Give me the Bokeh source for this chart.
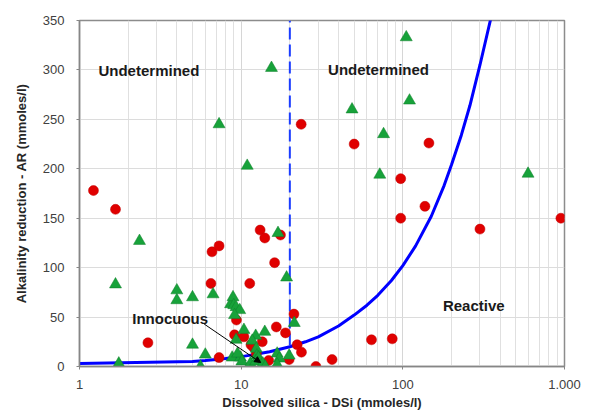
from bokeh.plotting import figure
from bokeh.models import Range1d, FixedTicker, SingleIntervalTicker, Arrow, NormalHead, Label
from bokeh.embed import file_html
from bokeh.resources import INLINE

# ---- data ----
red_x = [1.22, 1.67, 2.65, 6.6, 7.3, 6.5, 7.3, 11.3, 13.1, 14.0, 17.5, 16.1, 21.2, 23.5,
         9.35, 9.1, 10.4, 11.5, 11.9, 13.5, 12.4, 14.8, 16.5, 18.8, 19.8, 22.2, 23.6,
         29, 36.5, 64, 86, 97, 97, 137, 300, 950, 50, 145]
red_y = [178, 159, 24, 116, 122, 84, 9, 84, 138, 130, 133, 105, 53, 245,
         47, 32, 30, 22, 19.5, 25, 13, 6, 40, 34, 7, 22, 14.5,
         0, 7, 27, 28, 150, 190, 162, 139, 150, 225, 226]

green_x = [15.4, 7.3, 10.9, 105, 48.5, 110, 76, 72, 595,
           2.35, 1.67, 1.75, 4.0, 4.0, 5.0, 5.0, 6.7, 6.0, 5.6,
           16.9, 19.1, 21.3,
           8.6, 8.9, 9.0, 9.3, 9.8, 9.1,
           10.4, 12.3, 14.0, 11.7, 12.4, 9.3, 12.5,
           8.8, 9.9, 9.5, 10.1, 11.4, 12.3, 12.8, 13.6, 14.1,
           16.7, 17.2, 16.7, 19.8]
green_y = [302, 245, 203, 333, 260, 269, 235, 194, 195,
           127, 83, 3, 77, 67, 70, 22, 73, 12, 0,
           135, 90, 44,
           63, 70, 62, 60, 57, 52,
           37, 31, 35, 26, 18, 27, 11,
           9, 9, 13, 5, 3, 5, 9, 3, 0,
           13, 8, 2, 11]

# boundary curve (AR vs DSi)
curve_x = [1, 5, 6, 7, 8, 10, 12, 15, 20, 25, 30, 40, 50, 60, 70, 85, 100, 120,
           150, 180, 200, 230, 260, 300, 350]
curve_y = [3, 5, 6, 7, 8, 10, 12, 15, 20, 25, 30, 41, 52, 62, 72, 87, 102, 122,
           152, 183, 204, 234, 264, 305, 352]

dsi_limit = 20
x_tick_values = [1, 10, 100, 1000]
x_tick_labels = ["1", "10", "100", "1.000"]

font = "Liberation Sans"

p = figure(width=590, height=413, x_axis_type="log",
           x_range=Range1d(1, 1000), y_range=Range1d(0, 350),
           output_backend="svg", toolbar_location=None,
           min_border_left=79, min_border_right=26, min_border_top=20, min_border_bottom=47)
p.background_fill_color = "white"
p.border_fill_color = "white"
p.outline_line_color = "#8c8c8c"
p.outline_line_width = 1.5

minor = [m * 10 ** k for k in range(3) for m in range(2, 10)]
p.xaxis.ticker = FixedTicker(ticks=x_tick_values, minor_ticks=minor)
p.xaxis.major_label_overrides = dict(zip(x_tick_values, x_tick_labels))
p.yaxis.ticker = SingleIntervalTicker(interval=50, num_minor_ticks=0)

for ax in (p.xaxis, p.yaxis):
    ax.axis_line_color = "#868686"
    ax.axis_line_width = 1.5
    ax.major_tick_out = 3
    ax.major_tick_in = 0
    ax.major_tick_line_color = "#868686"
    ax.minor_tick_line_color = None
    ax.major_label_text_font = font
    ax.major_label_text_font_size = "13px"
    ax.major_label_text_color = "#404040"
    ax.axis_label_text_font = font
    ax.axis_label_text_font_size = "13px"
    ax.axis_label_text_font_style = "bold"
    ax.axis_label_text_color = "#262626"

p.xaxis.axis_label = "Dissolved silica - DSi (mmoles/l)"
p.yaxis.axis_label = "Alkalinity reduction - AR (mmoles/l)"
p.xaxis.major_label_standoff = 9
p.xaxis.axis_label_standoff = 3
p.yaxis.major_label_standoff = 12
p.yaxis.axis_label_standoff = 11

p.xgrid.grid_line_color = "#d6d6d6"
p.xgrid.minor_grid_line_color = "#e0e0e0"
p.ygrid.grid_line_color = "#dcdcdc"

# boundary curve and DSi limit
p.line(curve_x, curve_y, line_color="#0000ff", line_width=3)
p.segment(x0=[dsi_limit], y0=[0], x1=[dsi_limit], y1=[350],
          line_color="#1a3cff", line_width=2, line_dash="12 5", line_dash_offset=-4)

p.scatter(red_x, red_y, marker="circle", size=10, fill_color="#e00000",
          line_color="#c00000", line_width=0.5)
p.scatter(green_x, green_y, marker="triangle", size=12, fill_color="#17a23a",
          line_color="#0e7f2a", line_width=0.5)

# annotations
labels = [("Undetermined", 1.31, 299), ("Undetermined", 34.5, 300),
          ("Reactive", 177, 62), ("Innocuous", 2.12, 48.5)]
for t, lx, ly in labels:
    p.add_layout(Label(x=lx, y=ly, text=t, text_font=font, text_font_size="15px",
                       text_font_style="bold", text_color="#1a1a1a",
                       text_baseline="middle", text_align="left"))

arrow_start = (5.9, 43)
arrow_end = (13.2, 4)
p.add_layout(Arrow(end=NormalHead(size=6, fill_color="black", line_color="black"),
                   x_start=arrow_start[0], y_start=arrow_start[1],
                   x_end=arrow_end[0], y_end=arrow_end[1],
                   line_color="black", line_width=1))

open("out.html", "w").write(file_html(p, INLINE))
